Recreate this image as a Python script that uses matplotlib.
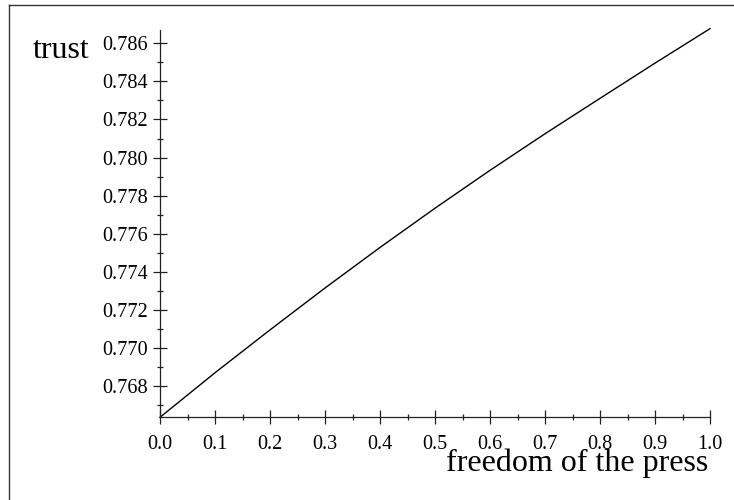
import matplotlib
matplotlib.use("Agg")
import matplotlib.pyplot as plt
from matplotlib.ticker import MultipleLocator, FormatStrFormatter, FixedLocator
from matplotlib.lines import Line2D
import numpy as np

# data
press = [0.0, 0.1, 0.2, 0.3, 0.4, 0.5, 0.6, 0.7, 0.8, 0.9, 1.0]
trust = [0.76636, 0.76870, 0.77095, 0.77315, 0.77528, 0.77734,
         0.77933, 0.78125, 0.78311, 0.78496, 0.78677]
x_ticks = [0.0, 0.1, 0.2, 0.3, 0.4, 0.5, 0.6, 0.7, 0.8, 0.9, 1.0]
y_ticks = [0.768, 0.770, 0.772, 0.774, 0.776, 0.778, 0.780, 0.782, 0.784, 0.786]
x_label = "freedom of the press"
y_label = "trust"

plt.rcParams['font.family'] = ['Liberation Serif', 'DejaVu Serif']

W, H = 734, 500
fig = plt.figure(figsize=(W / 100, H / 100), dpi=100)
ax = fig.add_axes([160 / W, 1 - 417.3 / H, 550 / W, (417.3 - 30) / H])

ax.plot(press, trust, color='black', linewidth=1.0, clip_on=False)
ax.set_xlim(0.0, 1.0)
ax.set_ylim(0.76636, 0.7867)

for s in ['top', 'right']:
    ax.spines[s].set_visible(False)
for s in ['left', 'bottom']:
    ax.spines[s].set_linewidth(0.9)
    ax.spines[s].set_color('#222222')

ax.xaxis.set_major_locator(FixedLocator(x_ticks))
ax.xaxis.set_minor_locator(MultipleLocator(0.05))
ax.yaxis.set_major_locator(FixedLocator(y_ticks))
ax.yaxis.set_minor_locator(MultipleLocator(0.001))
ax.xaxis.set_major_formatter(FormatStrFormatter('%.1f'))
ax.yaxis.set_major_formatter(FormatStrFormatter('%.3f'))

ax.tick_params(which='major', direction='inout', length=10.5, width=0.9,
               color='#222222', labelsize=14.6, pad=3.5)
ax.tick_params(which='minor', direction='inout', length=5, width=0.9,
               color='#222222')
ax.tick_params(axis='x', which='major', pad=7.5)

fig.text(33 / W, 1 - 58 / H, y_label, fontsize=23, ha='left', va='baseline')
fig.text(708 / W, 1 - 470.7 / H, x_label, fontsize=23, ha='right', va='baseline')

# border lines (top and left) of the picture
fig.add_artist(Line2D([8.5 / W, 1.0], [1 - 4.5 / H, 1 - 4.5 / H],
                      transform=fig.transFigure, color='#333333', linewidth=1.0))
fig.add_artist(Line2D([8.5 / W, 8.5 / W], [0.0, 1 - 4.5 / H],
                      transform=fig.transFigure, color='#333333', linewidth=1.0))

fig.savefig("out.png", dpi=100)
